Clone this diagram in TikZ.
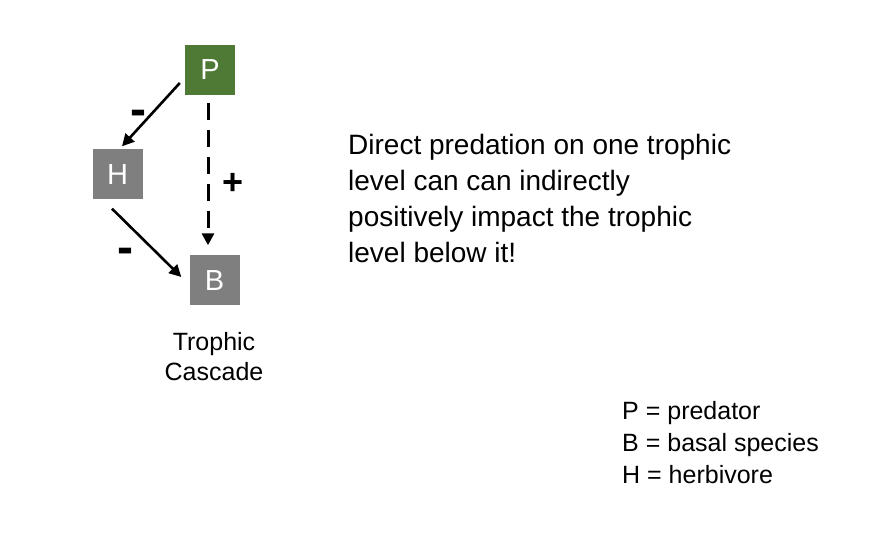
\documentclass[tikz,border=0pt]{standalone}
\usepackage{fontspec}
\setmainfont{Liberation Sans}
\usetikzlibrary{arrows.meta}
\definecolor{predgreen}{RGB}{78,122,53}
\definecolor{boxgrey}{RGB}{127,127,127}
\begin{document}
\begin{tikzpicture}[x=1pt,y=-1pt,
  level/.style={minimum size=50pt, inner sep=0pt, text=white, font=\fontsize{29}{29}\selectfont},
  link/.style={line width=2.6pt, -{Triangle[length=12pt,width=12pt]}},
  sign/.style={inner sep=0pt, font=\fontsize{36}{36}\selectfont\bfseries},
  minus/.style={inner sep=0pt, anchor=base, font=\fontsize{48}{48}\selectfont\bfseries}]
\useasboundingbox (0,0) rectangle (892,534);
% trophic levels
\node [level, fill=predgreen] (P) at (210,70) {P};
\node [level, fill=boxgrey] (H) at (117.5,174.5) {H};
\node [level, fill=boxgrey] (B) at (214.5,280.5) {B};
% direct and indirect effects
\draw [link] ([shift={(-5,13)}]P.west) -- ([shift={(4.5,-3)}]H.north);
\draw [link] ([shift={(-5.5,9)}]H.south) -- ([shift={(-8,-3.5)}]B.west);
\draw [link, line width=3pt, dash pattern=on 17pt off 10pt, dash phase=25pt] ([shift={(-2,6)}]P.south) -- ([shift={(-6.5,-10)}]B.north);
\node [minus] (minusPH) at (138.5,125.5) {-};
\node [minus] (minusHB) at (125.5,263.5) {-};
\node [sign] (plusPB) at (233,184) {+};
\node [anchor=north, align=center, font=\fontsize{25}{30}\selectfont] (caption) at (214,329) {Trophic\\Cascade};
% explanation and key
\node [anchor=north west, align=left, inner sep=0pt, font=\fontsize{28}{36}\selectfont] (claim) at (348,134) {Direct predation on one trophic\\level can can indirectly\\positively impact the trophic\\level below it!};
\node [anchor=north west, align=left, inner sep=0pt, font=\fontsize{25}{32}\selectfont] (key) at (622,401) {P = predator\\B = basal species\\H = herbivore};
\end{tikzpicture}
\end{document}
